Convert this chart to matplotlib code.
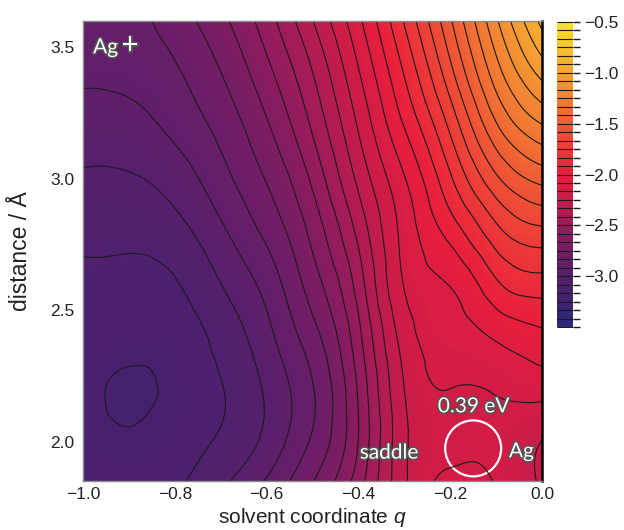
import numpy as np
import matplotlib
matplotlib.use('Agg')
import matplotlib.pyplot as plt
import matplotlib.tri as mtri
from matplotlib.colors import LinearSegmentedColormap, Normalize
from matplotlib.cm import ScalarMappable
from matplotlib.patches import Ellipse
from matplotlib.ticker import FuncFormatter
import matplotlib.patheffects as pe

plt.rcParams['font.family'] = ['Liberation Sans', 'DejaVu Sans']
plt.rcParams['mathtext.fontset'] = 'custom'
plt.rcParams['mathtext.it'] = 'Liberation Sans:italic'
plt.rcParams['mathtext.rm'] = 'Liberation Sans'

# ---- data (eV) ----
q_values = [-1.0, -0.9, -0.8, -0.7, -0.6, -0.5, -0.4, -0.3, -0.2, -0.1, 0.0]
d_values = [1.85, 2.0, 2.2, 2.4, 2.6, 2.8, 3.0, 3.2, 3.4, 3.6]
energy = [
    [-3.108, -3.129, -3.100, -3.020, -2.908, -2.755, -2.539, -2.265, -2.150, -2.171, -2.262],  # d=1.85
    [-3.121, -3.146, -3.125, -3.071, -2.977, -2.820, -2.581, -2.267, -2.183, -2.183, -2.2525],  # d=2.0
    [-3.104, -3.192, -3.138, -3.087, -2.987, -2.839, -2.572, -2.250, -2.167, -2.160, -2.135],  # d=2.2
    [-3.121, -3.117, -3.121, -3.058, -2.942, -2.782, -2.525, -2.212, -2.123, -2.072, -2.020],  # d=2.4
    [-3.096, -3.104, -3.090, -3.001, -2.886, -2.708, -2.462, -2.162, -2.079, -1.932, -1.870],  # d=2.6
    [-3.068, -3.058, -3.029, -2.933, -2.812, -2.641, -2.393, -2.137, -1.967, -1.776, -1.688],  # d=2.8
    [-3.012, -3.007, -2.964, -2.864, -2.744, -2.566, -2.313, -2.089, -1.847, -1.600, -1.472],  # d=3.0
    [-2.957, -2.950, -2.894, -2.808, -2.678, -2.488, -2.242, -1.997, -1.731, -1.429, -1.258],  # d=3.2
    [-2.902, -2.892, -2.845, -2.752, -2.609, -2.419, -2.175, -1.912, -1.611, -1.290, -1.058],  # d=3.4
    [-2.862, -2.858, -2.794, -2.690, -2.539, -2.336, -2.103, -1.826, -1.512, -1.181, -0.892],  # d=3.6
]
contour_levels = [-3.5 + i / 12 for i in range(37)]
x_ticks = [-1.0, -0.8, -0.6, -0.4, -0.2, 0.0]
y_ticks = [2.0, 2.5, 3.0, 3.5]
cbar_ticks = [-3.0, -2.5, -2.0, -1.5, -1.0, -0.5]
e_min, e_max = -3.5, -0.5

cmap_colors = ['#2a2a7c', '#40226f', '#561f6c', '#731d65', '#9b1c5a', '#c81c4a',
               '#e91d3c', '#ec3a38', '#ef5a35', '#f27f33', '#f5a231', '#f6c22c', '#f7e52a']
cmap = LinearSegmentedColormap.from_list('pes', cmap_colors)
norm = Normalize(vmin=e_min, vmax=e_max)

# ---- figure ----
fig = plt.figure(figsize=(6.24, 5.30), dpi=100)
ax = fig.add_axes([83 / 624, 1 - 481 / 530, 459 / 624, 460 / 530])
cax = fig.add_axes([557 / 624, 1 - 327 / 530, 16 / 624, 305 / 530])

# triangulated grid (scaled so that cells are near square on screen), refined by matplotlib
nq, nd = len(q_values), len(d_values)
Q, D = np.meshgrid(q_values, d_values)
Z = np.array(energy)
d_scale = 1.75
tris = []
for i in range(nd - 1):
    for j in range(nq - 1):
        a = i * nq + j
        b = a + 1
        c = a + nq
        e = c + 1
        tris.append([a, b, e])
        tris.append([a, e, c])
tri_s = mtri.Triangulation(Q.ravel(), D.ravel() / d_scale, np.array(tris))
interp = mtri.CubicTriInterpolator(tri_s, Z.ravel(), kind='min_E')
refiner = mtri.UniformTriRefiner(tri_s)
tri_r, z_ref = refiner.refine_field(Z.ravel(), subdiv=5, triinterpolator=interp)
tri_ref = mtri.Triangulation(tri_r.x, tri_r.y * d_scale, tri_r.triangles)

fill_levels = np.linspace(e_min, e_max, 301)
ax.tricontourf(tri_ref, z_ref, levels=fill_levels, cmap=cmap, norm=norm, extend='both')
cs = ax.tricontour(tri_ref, z_ref, levels=contour_levels, colors='#1a1a1a',
                   linewidths=0.8, linestyles='solid')

ax.set_xlim(-1.0, 0.0)
ax.set_ylim(1.85, 3.6)

def fmt(v, pos=None):
    s = f"{v:.1f}"
    if s == "-0.0":
        s = "0.0"
    return s.replace('-', '\u2212')

ax.set_xticks(x_ticks)
ax.set_yticks(y_ticks)
ax.xaxis.set_major_formatter(FuncFormatter(fmt))
ax.yaxis.set_major_formatter(FuncFormatter(fmt))
ax.tick_params(axis='both', length=0, labelsize=12.5, colors='#222222')
ax.tick_params(axis='x', pad=4)
ax.tick_params(axis='y', pad=6)
for side in ['left', 'top', 'bottom']:
    ax.spines[side].set_color('#8a8a8a')
    ax.spines[side].set_linewidth(1.0)
ax.spines['right'].set_color('black')
ax.spines['right'].set_linewidth(1.8)

ax.set_xlabel('solvent coordinate $q$', fontsize=15, color='#222222', labelpad=3)
ax.set_ylabel('distance / \u00c5', fontsize=16.5, color='#222222', labelpad=13)

# annotations
stroke = [pe.withStroke(linewidth=2.2, foreground='#555555')]
tfont = ['Lato', 'DejaVu Sans']
ax.text(-0.978, 3.477, 'Ag', color='white', fontsize=15, family=tfont,
        path_effects=stroke, ha='left', va='baseline')
ax.text(-0.898, 3.509, '+', color='white', fontsize=22, family=tfont,
        path_effects=stroke, ha='center', va='center')
ax.text(-0.227, 2.111, '0.39 eV', color='white', fontsize=15, family=tfont,
        path_effects=stroke, ha='left', va='baseline')
ax.text(-0.397, 1.935, 'saddle', color='white', fontsize=15, family=tfont,
        path_effects=stroke, ha='left', va='baseline')
ax.text(-0.072, 1.94, 'Ag', color='white', fontsize=15, family=tfont,
        path_effects=stroke, ha='left', va='baseline')
ax.add_patch(Ellipse((-0.150, 1.974), 0.122, 0.213, fill=False, edgecolor='white', linewidth=1.6))

# colorbar
sm = ScalarMappable(norm=norm, cmap=cmap)
cbar = fig.colorbar(sm, cax=cax)
cbar.outline.set_visible(False)
cbar.add_lines(cs)
cbar.set_ticks(cbar_ticks)
cbar.ax.yaxis.set_major_formatter(FuncFormatter(fmt))
cbar.ax.set_yticks(contour_levels, minor=True)
cbar.ax.tick_params(which='both', length=5, width=1.0, color='#1a1a1a', labelsize=12.5,
                    labelcolor='#222222', pad=3)

fig.savefig('out.png', dpi=100)
